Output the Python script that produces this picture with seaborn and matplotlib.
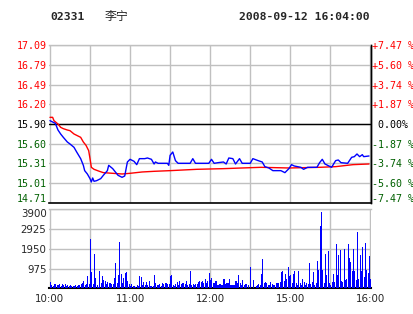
import matplotlib
matplotlib.use("Agg")
import matplotlib.pyplot as plt
import matplotlib.transforms as mtransforms
import numpy as np
import pandas as pd
import seaborn as sns

# ---------------- data ----------------
code = "02331"
name = "李宁"
stamp = "2008-09-12 16:04:00"
prev_close = 15.90

price_labels = ["17.09", "16.79", "16.49", "16.20", "15.90", "15.60", "15.31", "15.01", "14.71"]
pct_labels = ["+7.47 %", "+5.60 %", "+3.74 %", "+1.87 %", " 0.00%", "-1.87 %", "-3.74 %", "-5.60 %", "-7.47 %"]
vol_ticks = [975, 1950, 2925, 3900]
time_ticks = [0, 60, 120, 180, 240]
time_labels = ["10:00", "11:00", "12:00", "15:00", "16:00"]

# last price (minute index from 10:00, lunch break removed)
price_min = [0, 4, 6, 8, 10, 13, 15, 18, 20, 23, 25, 26, 28, 30, 31, 32, 33, 35, 38, 40,
             43, 44, 47, 49, 51, 54, 56, 58, 60, 63, 65, 67, 71, 73, 76, 78, 79, 81, 88, 89,
             90, 92, 94, 96, 105, 107, 109, 119, 121, 123, 126, 130, 132, 134, 137, 139, 142, 144, 150, 152,
             156, 159, 161, 164, 167, 173, 176, 179, 181, 183, 188, 190, 193, 200, 202, 204, 206, 209, 211, 214,
             216, 218, 223, 226, 228, 230, 232, 234, 235, 239]
price_val = [15.95, 15.91, 15.81, 15.75, 15.70, 15.63, 15.60, 15.55, 15.48, 15.38, 15.28, 15.20, 15.15, 15.08, 15.03, 15.09, 15.04, 15.05, 15.08, 15.13,
             15.20, 15.28, 15.23, 15.18, 15.13, 15.10, 15.12, 15.33, 15.37, 15.34, 15.29, 15.38, 15.38, 15.39, 15.37, 15.30, 15.33, 15.31, 15.31, 15.28,
             15.43, 15.48, 15.35, 15.31, 15.31, 15.38, 15.31, 15.31, 15.37, 15.31, 15.32, 15.33, 15.30, 15.39, 15.38, 15.30, 15.38, 15.31, 15.31, 15.38,
             15.35, 15.33, 15.26, 15.24, 15.20, 15.20, 15.17, 15.23, 15.29, 15.27, 15.25, 15.22, 15.25, 15.25, 15.32, 15.37, 15.30, 15.27, 15.25, 15.35,
             15.36, 15.32, 15.31, 15.40, 15.41, 15.45, 15.41, 15.44, 15.41, 15.42]

# average price
avg_min = [0, 2, 3, 6, 8, 10, 13, 15, 18, 20, 23, 25, 27, 29, 30, 31, 33, 37, 40, 54,
           60, 69, 78, 90, 110, 130, 158, 179, 202, 214, 227, 239]
avg_val = [16.00, 16.00, 15.95, 15.90, 15.85, 15.83, 15.81, 15.80, 15.75, 15.73, 15.70, 15.63, 15.58, 15.50, 15.38, 15.25, 15.22, 15.19, 15.17, 15.15,
           15.16, 15.18, 15.19, 15.20, 15.22, 15.23, 15.25, 15.24, 15.25, 15.26, 15.29, 15.30]

# volume per minute
volume = [330, 165, 115, 214, 214, 181, 148, 214, 115, 214, 181, 214, 115, 148,
          115, 181, 115, 115, 115, 181, 115, 148, 181, 214,
          247, 362, 148, 214, 609, 214, 2436, 823, 214, 1695,
          494, 165, 82, 856, 247, 609, 412, 346, 230,
          313, 280, 247, 198, 214, 494, 1267, 247, 658, 2288,
          708, 247, 494, 774, 807, 379, 214, 115, 214, 115,
          99, 49, 148, 115, 609, 576, 181, 313, 148,
          313, 181, 346, 115, 132, 115, 675, 247, 148, 165,
          214, 115, 280, 214, 247, 247, 214, 198, 609, 658,
          181, 115, 214, 313, 148, 346, 214, 247, 280,
          214, 346, 148, 214, 872, 181, 214, 181, 214, 214,
          313, 346,
          313, 346, 247, 444, 280, 379, 774, 412, 494, 247,
          247, 346, 181, 148, 214, 181, 181, 444, 214, 247,
          247, 444, 148, 148, 181, 181, 379, 247, 642, 280,
          181, 412, 148, 214, 214, 148, 16, 1070, 16, 412,
          16, 115, 148, 214, 148, 708, 1432, 247, 313, 280,
          148, 181, 313, 214, 181, 181, 280, 247, 280, 313,
          807, 872, 346, 708, 477, 1070, 609, 675, 280, 708,
          872, 280, 181, 872, 247, 181, 444, 313, 181, 247,
          214, 1267, 214, 313, 807, 181, 280, 1333, 905, 3078,
          3753, 905, 280, 1695, 642, 1827, 280, 181, 313, 708,
          313, 2206, 642, 1646, 1876, 346, 313, 1926,
          412, 444, 2206, 1481, 1300, 872, 1959, 872, 412,
          2782, 444, 1646, 872, 2041, 543, 2239, 905, 774, 1597, 444]

# ---------------- style ----------------
sns.set_style("white")
plt.rcParams["font.family"] = ["DejaVu Sans Mono", "Noto Sans CJK SC"]

RED = "#ff0000"
GREEN = "#006000"
GRID = "#c0c0c0"

W, H = 414, 314
fig = plt.figure(figsize=(W / 100, H / 100), dpi=100)
fig.patch.set_facecolor("white")

L, R = 49.3, 371.0
axp = fig.add_axes([L / W, (H - 203.3) / H, (R - L) / W, (203.3 - 44.7) / H])
axv = fig.add_axes([L / W, (H - 288.3) / H, (R - L) / W, (288.3 - 209.3) / H])

grid_x = np.arange(0, 241, 30)
xlim = (-0.5, 240.5)


def shift(label, dy_px):
    off = mtransforms.ScaledTranslation(0, dy_px / 100.0, fig.dpi_scale_trans)
    label.set_transform(label.get_transform() + off)


# ---------------- price panel ----------------
tick_prices = [float(s) for s in price_labels]
pdf = pd.DataFrame({"minute": price_min, "price": price_val})
adf = pd.DataFrame({"minute": avg_min, "price": avg_val})

for gx in grid_x:
    axp.axvline(gx, color=GRID, lw=1, zorder=0)
for gy in tick_prices:
    axp.axhline(gy, color=GRID, lw=1, zorder=0)
axp.axhline(prev_close, color="black", lw=1, zorder=1)

sns.lineplot(data=pdf, x="minute", y="price", color="#0000ff", lw=1, ax=axp, zorder=3)
sns.lineplot(data=adf, x="minute", y="price", color=RED, lw=1, ax=axp, zorder=2)

axp.set_xlim(*xlim)
axp.set_ylim(tick_prices[-1], tick_prices[0])
axp.set_xticks([])
axp.set_yticks(tick_prices)
axp.set_yticklabels(price_labels, fontsize=7.2)
axp.tick_params(axis="y", length=0, pad=2)
axp.set_xlabel("")
axp.set_ylabel("")
labs = axp.get_yticklabels()
for i, t in enumerate(labs):
    t.set_color(RED if i < 4 else ("black" if i == 4 else GREEN))
shift(labs[-1], 5)
axp.spines["left"].set_visible(False)
axp.spines["top"].set_color(GRID)
axp.spines["top"].set_linewidth(1)
axp.spines["right"].set_color("black")
axp.spines["right"].set_linewidth(1)
axp.spines["bottom"].set_color("black")
axp.spines["bottom"].set_linewidth(1.2)

axr = axp.twinx()
axr.set_ylim(tick_prices[-1], tick_prices[0])
axr.set_yticks(tick_prices)
axr.set_yticklabels(pct_labels, fontsize=7.2)
axr.tick_params(axis="y", length=0, pad=1)
rlabs = axr.get_yticklabels()
for i, t in enumerate(rlabs):
    t.set_color(RED if i < 4 else ("black" if i == 4 else GREEN))
shift(rlabs[-1], 5)
for s in ["left", "top", "bottom"]:
    axr.spines[s].set_visible(False)
axr.spines["right"].set_color("black")
axr.spines["right"].set_linewidth(1)

# ---------------- volume panel ----------------
vdf = pd.DataFrame({"minute": np.arange(len(volume)), "volume": volume})
for gx in grid_x:
    axv.axvline(gx, color=GRID, lw=1, zorder=0)
for gy in vol_ticks:
    axv.axhline(gy, color=GRID, lw=1, zorder=0)
sns.barplot(data=vdf, x="minute", y="volume", native_scale=True, color="#0000ff",
            saturation=1, width=0.02, errorbar=None, linewidth=0.72,
            edgecolor="#0000ff", antialiased=False, ax=axv, zorder=3)
axv.set_xlim(*xlim)
axv.set_ylim(0, vol_ticks[-1])
axv.set_yticks(vol_ticks)
axv.set_yticklabels([str(v) for v in vol_ticks], fontsize=7.4, family="DejaVu Sans")
axv.set_xticks(time_ticks)
axv.set_xticklabels(time_labels, fontsize=7.4, family="DejaVu Sans")
axv.tick_params(axis="both", length=0)
axv.tick_params(axis="y", pad=2)
axv.tick_params(axis="x", pad=4)
axv.set_xlabel("")
axv.set_ylabel("")
shift(axv.get_yticklabels()[-1], -4)
axv.spines["left"].set_visible(False)
axv.spines["right"].set_visible(False)
axv.spines["top"].set_color(GRID)
axv.spines["top"].set_linewidth(1)
axv.spines["bottom"].set_color("black")
axv.spines["bottom"].set_linewidth(1.5)

# ---------------- header ----------------
hy = (H - 16.7) / H
fig.text(50 / W, hy, code, ha="left", va="center", fontsize=8.2, fontweight="bold")
fig.text(105 / W, hy, name, ha="left", va="center", fontsize=8.6, family=["Noto Sans CJK SC"])
fig.text(370 / W, hy, stamp, ha="right", va="center", fontsize=8.2, fontweight="bold")

fig.savefig("out.png", dpi=100, facecolor="white")
